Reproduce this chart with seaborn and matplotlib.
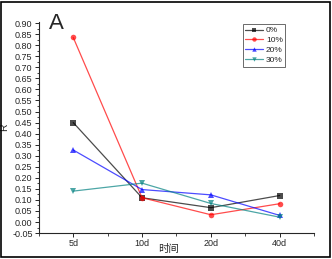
import pandas as pd
import matplotlib
matplotlib.use('Agg')
import matplotlib.pyplot as plt
import seaborn as sb
from matplotlib.ticker import MultipleLocator, AutoMinorLocator
from matplotlib.patches import Rectangle

days = ['5d', '10d', '20d', '40d']
groups = ['0%', '10%', '20%', '30%']
r_0 = [0.45, 0.11, 0.065, 0.12]
r_10 = [0.835, 0.11, 0.033, 0.083]
r_20 = [0.326, 0.147, 0.123, 0.03]
r_30 = [0.14, 0.176, 0.084, 0.022]

colors = ['#000000', '#FF0000', '#0000FF', '#008080']
marks = ['s', 'o', '^', 'v']

df = pd.DataFrame({
    'day': days * 4,
    'R': r_0 + r_10 + r_20 + r_30,
    'group': [g for g in groups for _ in days],
})

sb.set_style('ticks')
plt.rcParams['font.family'] = ['Liberation Sans', 'Noto Sans CJK SC', 'DejaVu Sans']

fig = plt.figure(figsize=(3.32, 2.59), dpi=100)
ax = fig.add_axes([0.117, 0.1, 0.829, 0.815])

sb.lineplot(data=df, x='day', y='R', hue='group', style='group',
            palette=colors, markers=marks, dashes=False, sort=False,
            linewidth=0.9, markersize=4, markeredgewidth=0, ax=ax)
for ln in ax.lines:
    ln.set_alpha(0.7)

ax.set_xlim(-0.5, 3.5)
ax.set_ylim(-0.05, 0.905)
ax.yaxis.set_major_locator(MultipleLocator(0.05))
ax.yaxis.set_minor_locator(AutoMinorLocator(2))
ax.xaxis.set_minor_locator(MultipleLocator(0.5))
ax.set_yticklabels(['%.2f' % v for v in ax.get_yticks()])
ax.tick_params(labelsize=6.5, length=3, width=0.7, pad=1.5)
ax.tick_params(which='minor', length=1.8, width=0.6)
for s in ['left', 'bottom']:
    ax.spines[s].set_linewidth(0.8)
sb.despine(ax=ax)

ax.set_xlabel('时间', fontsize=7.5, labelpad=-3, x=0.47)
ax.set_ylabel('R', fontsize=7.5, labelpad=2)
ax.text(0.035, 1.045, 'A', transform=ax.transAxes, fontsize=16, va='top')

leg = ax.legend(loc='upper left', bbox_to_anchor=(0.74, 0.99), fontsize=6,
                frameon=True, fancybox=False, edgecolor='#444444',
                handlelength=2.2, handletextpad=0.3, borderpad=0.3,
                labelspacing=0.25, borderaxespad=0, markerscale=0.8)
leg.get_frame().set_linewidth(0.7)

fig.patches.append(Rectangle((0.004, 0.006), 0.99, 0.988, transform=fig.transFigure,
                             fill=False, edgecolor='black', linewidth=1.2))

fig.savefig('out.png', dpi=100)
